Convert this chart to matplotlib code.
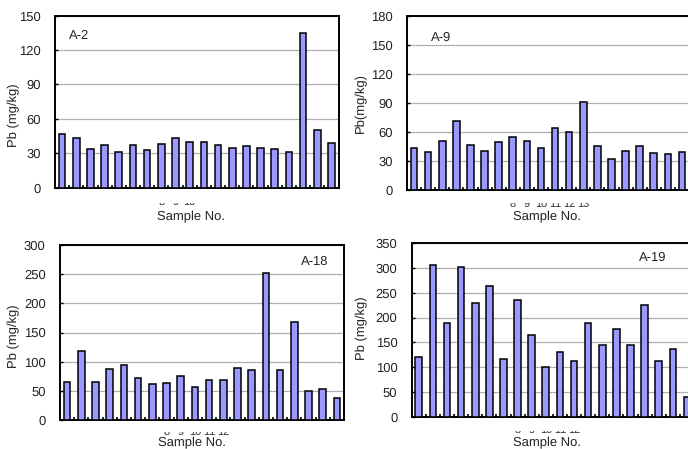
import matplotlib
matplotlib.use("Agg")
import matplotlib.pyplot as plt
from matplotlib.transforms import Bbox, TransformedBbox, blended_transform_factory
import numpy as np

plt.rcParams['font.family'] = ['Liberation Sans', 'DejaVu Sans']
plt.rcParams['text.hinting'] = 'no_hinting'
plt.rcParams['text.hinting_factor'] = 1

W, H = 688, 449

# values
samples = np.arange(1, 21)
pb_a2 = [47, 43, 34, 37, 31, 37, 33, 38, 43, 40, 40, 37, 35, 36, 35, 34, 31, 135, 50, 39]
pb_a9 = [43, 39, 51, 71, 46, 40, 50, 55, 51, 43, 64, 60, 91, 45, 32, 40, 45, 38, 37, 39]
pb_a18 = [65, 118, 65, 88, 94, 72, 62, 64, 76, 57, 68, 68, 89, 86, 252, 86, 168, 50, 54, 38]
pb_a19 = [120, 307, 190, 303, 230, 263, 116, 235, 165, 100, 131, 113, 190, 144, 178, 144, 226, 113, 137, 39]

ticks_a2 = [0, 30, 60, 90, 120, 150]
ticks_a9 = [0, 30, 60, 90, 120, 150, 180]
ticks_a18 = [0, 50, 100, 150, 200, 250, 300]
ticks_a19 = [0, 50, 100, 150, 200, 250, 300, 350]

fig = plt.figure(figsize=(W / 100, H / 100), dpi=100)


def panel(values, yticks, name, name_xy, ylabel, box, ylabel_xy, xlabel_xy, shown, clip_y):
    # box is left, top, right, bottom in image pixels
    left, top, right, bottom = box
    ax = fig.add_axes([left / W, 1 - bottom / H, (right - left) / W, (bottom - top) / H])
    ax.bar(samples, values, width=0.47, color='#9999ff', edgecolor='black', linewidth=1.1, zorder=3)
    ax.set_xlim(0.5, 20.5)
    ax.set_ylim(0, yticks[-1])
    ax.set_yticks(yticks)
    ax.set_xticks(samples[:-1] + 0.5)
    ax.set_xticklabels([])
    ax.tick_params(axis='x', direction='in', length=2.5, width=1.2, top=False)
    ax.tick_params(axis='y', direction='in', length=2.5, width=1, labelsize=9, pad=10.3,
                   labelcolor='#222222')
    ax.grid(axis='y', color='#808080', linestyle=(0, (1, 0.6)), linewidth=0.9, zorder=1)
    for s in ax.spines.values():
        s.set_linewidth(1.4)
    ax.text(name_xy[0], name_xy[1], name, fontsize=9, va='center', ha='left', color='#222222', zorder=5)
    fig.text(ylabel_xy[0] / W, 1 - ylabel_xy[1] / H, ylabel, rotation=90, fontsize=9,
             ha='center', va='center', color='#222222')
    fig.text(xlabel_xy[0] / W, 1 - xlabel_xy[1] / H, 'Sample No.', fontsize=9,
             ha='center', va='center', color='#222222')
    # tick numbers were mostly masked in the original, only a sliver shows
    trans = blended_transform_factory(ax.transData, fig.transFigure)
    clip = TransformedBbox(Bbox([[0, 1 - clip_y[1] / H], [1, 1 - clip_y[0] / H]]), fig.transFigure)
    for n in shown:
        t = ax.text(n, 1 - clip_y[1] / H, str(n), transform=trans, fontsize=8, ha='center', va='baseline',
                    color='#333333')
        t.set_clip_box(clip)
        t.set_clip_on(True)
    return ax


panel(pb_a2, ticks_a2, 'A-2', (1.5, 133), 'Pb (mg/kg)', (55, 15.7, 338.5, 187.7),
      (14, 115), (191, 217), [8, 9, 10], (203.4, 204.6))
panel(pb_a9, ticks_a9, 'A-9', (2.2, 157), 'Pb(mg/kg)', (407, 15.7, 689, 190),
      (361, 103), (547, 217), [8, 9, 10, 11, 12, 13], (203.4, 206.7))
panel(pb_a18, ticks_a18, 'A-18', (17.5, 272), 'Pb (mg/kg)', (60, 245, 344, 420),
      (14, 336), (192, 443.2), [8, 9, 10, 11, 12], (432, 435))
panel(pb_a19, ticks_a19, 'A-19', (16.6, 321), 'Pb (mg/kg)', (411.7, 243.3, 694, 416.7),
      (362, 328), (547, 443.2), [8, 9, 10, 11, 12], (430.8, 433))

fig.savefig('out.png', dpi=100)
